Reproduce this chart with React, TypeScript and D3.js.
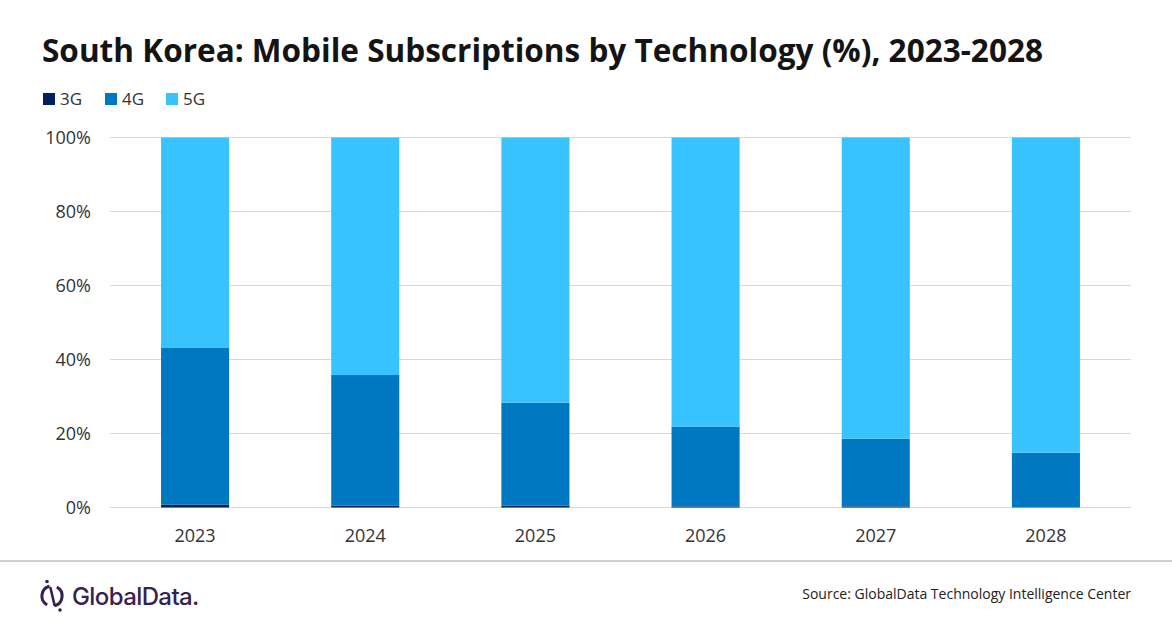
import { useEffect, useRef } from 'react'
import * as d3 from 'd3'

// ── Data (% of subscriptions) ──────────────────────────────────────────────
const YEARS = ['2023', '2024', '2025', '2026', '2027', '2028']
const G3 = [0.8, 0.5, 0.5, 0.3, 0.3, 0.05]
const G4 = [42.3, 35.3, 27.8, 21.5, 18.3, 14.75]
const G5 = [56.9, 64.2, 71.7, 78.2, 81.4, 85.2]
const SERIES = ['3G', '4G', '5G']
const COLORS = ['#002060', '#0077c1', '#38c3ff']
const Y_TICKS = [0, 20, 40, 60, 80, 100]

const W = 1172, H = 628
const FONT = '"Open Sans", "Noto Sans", sans-serif'

export default function App() {
  const svgRef = useRef<SVGSVGElement>(null)

  useEffect(() => {
    document.body.style.margin = '0'
    const svg = d3.select(svgRef.current)
    svg.selectAll('*').remove()
    svg.attr('width', W).attr('height', H).style('display', 'block')
    svg.append('rect').attr('width', W).attr('height', H).attr('fill', '#fff')

    const left = 110, right = 1131, top = 137.5, bottom = 507.5

    const x = d3.scaleBand<string>().domain(YEARS).range([left, right]).paddingInner(0.6).paddingOuter(0.3)
    const y = d3.scaleLinear().domain([0, 100]).range([bottom, top])

    // title
    svg.append('text')
      .attr('x', 42).attr('y', 62)
      .attr('font-family', FONT).attr('font-weight', 700).attr('font-size', 33)
      .attr('fill', '#141414')
      .attr('textLength', 1001).attr('lengthAdjust', 'spacingAndGlyphs')
      .text('South Korea: Mobile Subscriptions by Technology (%), 2023-2028')

    // legend
    const legX = [43, 105, 166]
    SERIES.forEach((s, i) => {
      const lg = svg.append('g').attr('transform', `translate(${legX[i]},93)`)
      lg.append('rect').attr('width', 12).attr('height', 12).attr('fill', COLORS[i])
      lg.append('text').attr('x', 17).attr('y', 12)
        .attr('font-family', FONT).attr('font-size', 17).attr('fill', '#333')
        .text(s)
    })

    // gridlines
    svg.append('g').selectAll('line').data(Y_TICKS).join('line')
      .attr('x1', left).attr('x2', right)
      .attr('y1', (d) => y(d)).attr('y2', (d) => y(d))
      .attr('stroke', '#d9d9d9').attr('stroke-width', 1)

    // y axis labels
    svg.append('g').selectAll('text').data(Y_TICKS).join('text')
      .attr('x', 91).attr('y', (d) => y(d) + 6.5)
      .attr('text-anchor', 'end')
      .attr('font-family', FONT).attr('font-size', 18).attr('fill', '#333')
      .text((d) => `${d}%`)

    // stacked bars
    const rows = YEARS.map((yr, i) => ({ year: yr, '3G': G3[i], '4G': G4[i], '5G': G5[i] }))
    const stack = d3.stack<any>().keys(SERIES)(rows)
    stack.forEach((layer, li) => {
      svg.append('g').attr('fill', COLORS[li]).selectAll('rect').data(layer).join('rect')
        .attr('x', (d) => x(d.data.year)!)
        .attr('width', x.bandwidth())
        .attr('y', (d) => y(Math.min(d[1], 100)))
        .attr('height', (d) => y(d[0]) - y(Math.min(d[1], 100)))
    })

    // x axis labels
    svg.append('g').selectAll('text').data(YEARS).join('text')
      .attr('x', (d) => x(d)! + x.bandwidth() / 2).attr('y', 542)
      .attr('text-anchor', 'middle')
      .attr('font-family', FONT).attr('font-size', 18).attr('fill', '#333')
      .text((d) => d)

    // footer separator
    svg.append('line').attr('x1', 0).attr('x2', W).attr('y1', 561).attr('y2', 561)
      .attr('stroke', '#9a9a9a').attr('stroke-width', 1)

    // logo
    const purple = '#35224f'
    const logo = svg.append('g').attr('transform', 'translate(52,596)')
    const arc = d3.arc()
    ;[[0.5, Math.PI - 0.25], [Math.PI + 0.5, 2 * Math.PI - 0.25]].forEach(([a0, a1]) => {
      logo.append('path')
        .attr('d', arc({ innerRadius: 8.6, outerRadius: 11.6, startAngle: a0, endAngle: a1 } as any))
        .attr('fill', purple)
    })
    logo.append('line').attr('x1', -1.5).attr('y1', -8).attr('x2', 2.5).attr('y2', 9)
      .attr('stroke', purple).attr('stroke-width', 2.6).attr('stroke-linecap', 'round')
    logo.append('circle').attr('cx', -5).attr('cy', -14.5).attr('r', 1.8).attr('fill', purple)
    logo.append('circle').attr('cx', 8).attr('cy', 14).attr('r', 1.8).attr('fill', purple)
    svg.append('text').attr('x', 72).attr('y', 605)
      .attr('font-family', '"Inter", "Noto Sans", sans-serif').attr('font-size', 24).attr('font-weight', 500)
      .attr('fill', purple).attr('letter-spacing', -0.6)
      .text('GlobalData.')

    // source
    svg.append('text').attr('x', 1131).attr('y', 599)
      .attr('text-anchor', 'end')
      .attr('font-family', FONT).attr('font-size', 14).attr('fill', '#222')
      .text('Source:  GlobalData Technology Intelligence Center')
  }, [])

  return <svg ref={svgRef} />
}
